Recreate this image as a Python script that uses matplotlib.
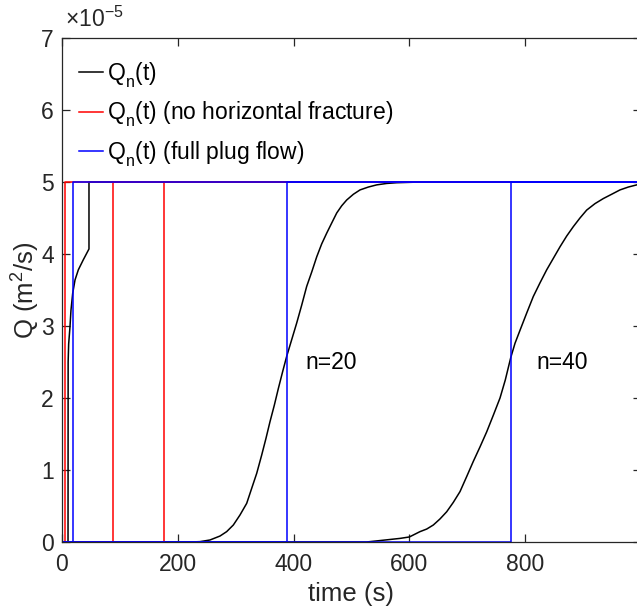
import matplotlib
matplotlib.use("Agg")
import matplotlib.pyplot as plt
from matplotlib.ticker import FuncFormatter, MultipleLocator, FixedLocator

plt.rcParams["font.family"] = ["Liberation Sans", "DejaVu Sans"]
plt.rcParams["mathtext.fontset"] = "custom"
plt.rcParams["mathtext.rm"] = "Liberation Sans"
plt.rcParams["mathtext.it"] = "Liberation Sans"

# Lower the subscripts a little further (MATLAB-style Q_n)
try:
    from matplotlib import _mathtext
    _mathtext.FontConstantsBase.sub1 = 0.6
except Exception:
    pass

# Flow rate Q in units of 1e-5 m^2/s
Q_UNIT = 1e-5
Q_MAX = 5.0
T_END = 1000.0

# Computed Q_n(t) for n = 1, 20, 40
t_n1 = [0, 10.4, 10.6, 11.5, 13.8, 15.5, 18.4, 22.5, 28.2, 36.8, 46.6, 46.6, 1000]
q_n1 = [0, 0, 2.50, 2.75, 2.99, 3.22, 3.45, 3.64, 3.78, 3.92, 4.07, 5.0, 5.0]

t_n20 = [0, 221.1, 238.3, 255.6, 272.9, 284.4, 295.9, 307.4, 319.0, 327.6,
         336.3, 344.9, 352.3, 359.2, 366.7, 373.6, 381.2, 388.1, 396.7,
         405.3, 414.0, 422.6, 431.3, 439.9, 448.5, 457.2, 465.8, 474.5,
         483.1, 491.7, 503.3, 514.7, 529.1, 543.5, 560.8, 578.1, 620, 1000]
q_n20 = [0, 0, 0.005, 0.028, 0.083, 0.144, 0.236, 0.375, 0.537, 0.745,
         0.954, 1.208, 1.44, 1.67, 1.90, 2.13, 2.37, 2.58, 2.81,
         3.04, 3.29, 3.55, 3.75, 3.96, 4.14, 4.29, 4.43, 4.57,
         4.67, 4.75, 4.83, 4.89, 4.93, 4.96, 4.98, 4.99, 5.0, 5.0]

t_n40 = [0, 526.0, 560.8, 583.8, 600.0, 618.3, 629.9, 641.3, 652.8, 664.4,
         675.8, 687.4, 699.0, 710.4, 721.9, 733.5, 744.9, 756.5, 765.6,
         775.0, 782.4, 791.0, 802.6, 814.0, 825.6, 837.1, 848.6, 860.1,
         871.7, 883.1, 894.6, 906.2, 920.6, 934.9, 949.4, 963.7, 978.1,
         992.6, 1000]
q_n40 = [0, 0, 0.03, 0.05, 0.07, 0.144, 0.18, 0.236, 0.32, 0.42,
         0.55, 0.70, 0.91, 1.12, 1.32, 1.53, 1.76, 2.00, 2.25,
         2.56, 2.76, 2.94, 3.18, 3.41, 3.60, 3.78, 3.94, 4.10,
         4.25, 4.38, 4.50, 4.61, 4.70, 4.77, 4.83, 4.89, 4.93,
         4.96, 4.97]

# Breakthrough times of the step solutions for n = 1, 20, 40
t_no_horizontal = [4.4, 88, 176]
t_plug_flow = [19.4, 388, 776]

annotations = [("n=20", 421, 2.49), ("n=40", 820, 2.49)]
x_ticks = [0, 200, 400, 600, 800]

fig = plt.figure(figsize=(6.37, 6.11), dpi=100)
ax = fig.add_axes([62 / 637, 69 / 611, 579 / 637, 504 / 611])

lw = 1.1
black_lines = []
for t, q in [(t_n1, q_n1), (t_n20, q_n20), (t_n40, q_n40)]:
    black_lines += ax.plot(t, [v * Q_UNIT for v in q], color="black", lw=lw)


def step(t0):
    return [0, t0, t0, T_END], [0, 0, Q_MAX * Q_UNIT, Q_MAX * Q_UNIT]


red_lines = []
for t0 in t_no_horizontal:
    x, y = step(t0)
    red_lines += ax.plot(x, y, color="#ff0000", lw=lw)

blue_lines = []
for t0 in t_plug_flow:
    x, y = step(t0)
    blue_lines += ax.plot(x, y, color="#0000ff", lw=lw)

for s, tx, qy in annotations:
    ax.text(tx, qy * Q_UNIT, s, fontsize=16.5, ha="left", va="center")

ax.set_xlim(0, T_END)
ax.set_ylim(0, 7 * Q_UNIT)
ax.xaxis.set_major_locator(FixedLocator(x_ticks))
ax.yaxis.set_major_locator(MultipleLocator(Q_UNIT))
ax.yaxis.set_major_formatter(FuncFormatter(lambda v, p: f"{v / Q_UNIT:.0f}"))
ax.xaxis.set_major_formatter(FuncFormatter(lambda v, p: f"{v:.0f}"))

edge = "#262626"
for sp in ax.spines.values():
    sp.set_color(edge)
    sp.set_linewidth(0.9)
ax.tick_params(direction="in", length=6, width=0.9, colors=edge,
               labelsize=16.5, top=True, right=True, pad=6)
ax.tick_params(axis="x", pad=8)

ax.set_xlabel("time (s)", fontsize=18.5, color=edge, labelpad=4)
ax.set_ylabel("Q (m$^2$/s)", fontsize=18.5, color=edge, labelpad=-1)

ax.text(0.005, 1.012, r"$\times$10$^{-5}$", transform=ax.transAxes,
        fontsize=16.5, color=edge, ha="left", va="bottom")

leg = ax.legend([black_lines[0], red_lines[0], blue_lines[0]],
                ["Q$_{\\mathrm{n}}$(t)",
                 "Q$_{\\mathrm{n}}$(t) (no horizontal fracture)",
                 "Q$_{\\mathrm{n}}$(t) (full plug flow)"],
                loc="upper left", bbox_to_anchor=(0.0, 0.99), frameon=False,
                fontsize=16.5, handlelength=1.05, handletextpad=0.15,
                labelspacing=0.42, borderaxespad=0.35)

fig.savefig("out.png", dpi=100)
